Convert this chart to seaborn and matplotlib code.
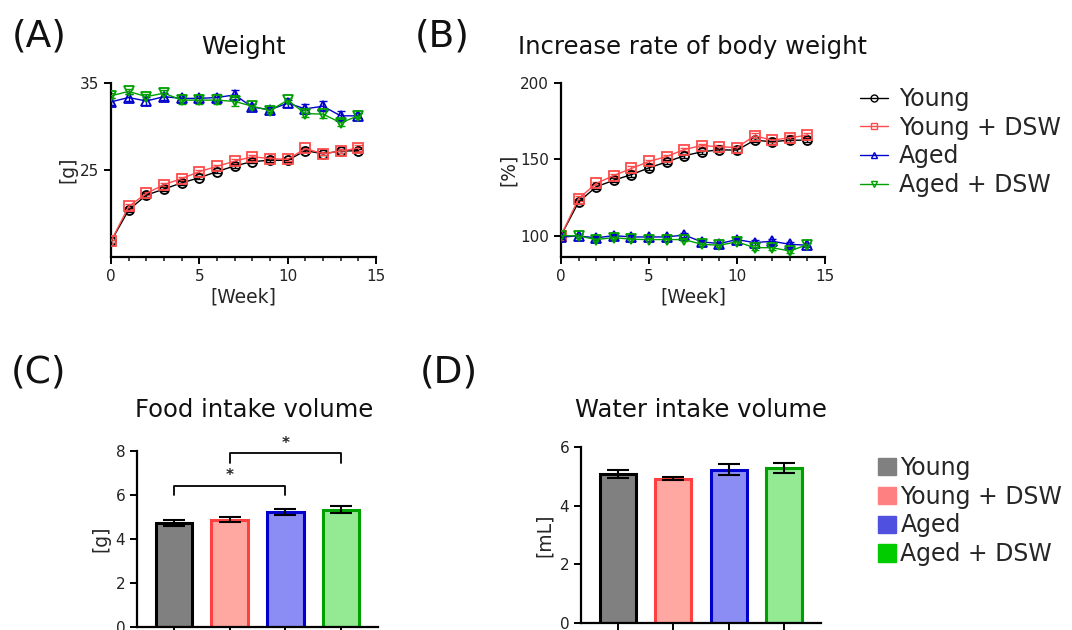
import numpy as np
import pandas as pd
import seaborn as sns
import matplotlib.pyplot as plt
from matplotlib.lines import Line2D
from matplotlib.patches import Patch
from matplotlib.ticker import MultipleLocator, FixedLocator

sns.set_style("ticks")
plt.rcParams['font.family'] = ['DejaVu Sans']

# ---- data ----
weeks = list(range(15))
groups = ["Young", "Young + DSW", "Aged", "Aged + DSW"]

weight_young = [16.8, 20.4, 22.1, 22.8, 23.5, 24.1, 24.8, 25.45, 25.95, 26.1, 26.1, 27.2, 26.85, 27.15, 27.2]
weight_young_dsw = [16.8, 20.8, 22.3, 23.3, 24.0, 24.8, 25.4, 26.0, 26.5, 26.3, 26.2, 27.45, 26.85, 27.15, 27.5]
weight_aged = [32.8, 33.3, 32.9, 33.4, 33.2, 33.2, 33.3, 33.6, 32.2, 31.9, 32.65, 32.0, 32.3, 31.2, 31.2]
weight_aged_dsw = [33.5, 34.0, 33.4, 33.8, 33.0, 33.0, 33.0, 32.85, 32.3, 31.8, 33.0, 31.45, 31.4, 30.4, 31.2]

weight_err_young = [0.2, 0.2, 0.2, 0.2, 0.2, 0.2, 0.2, 0.2, 0.2, 0.2, 0.2, 0.2, 0.2, 0.2, 0.2]
weight_err_young_dsw = [0.2, 0.3, 0.2, 0.2, 0.2, 0.2, 0.2, 0.2, 0.2, 0.2, 0.2, 0.2, 0.2, 0.2, 0.3]
weight_err_aged = [0.4, 0.4, 0.5, 0.4, 0.4, 0.4, 0.4, 0.6, 0.3, 0.3, 0.4, 0.5, 0.6, 0.6, 0.3]
weight_err_aged_dsw = [0.3, 0.3, 0.3, 0.4, 0.4, 0.4, 0.4, 0.5, 0.3, 0.3, 0.3, 0.4, 0.4, 0.4, 0.3]

rate_young = [100, 122, 131.9, 136.2, 139.9, 144.3, 148.2, 152.2, 154.8, 156.1, 155.9, 162.4, 161.4, 162.4, 162.4]
rate_young_dsw = [100, 124.2, 134.1, 139.3, 143.9, 148.5, 151.7, 156.3, 158.9, 158.1, 157.6, 165.3, 162.4, 164.0, 165.7]
rate_aged = [99.0, 99.8, 98.5, 100.0, 99.1, 99.1, 99.1, 100.4, 95.9, 94.8, 97.4, 95.4, 96.3, 94.3, 93.7]
rate_aged_dsw = [100.0, 99.8, 97.4, 98.7, 97.6, 97.4, 97.4, 97.4, 94.3, 93.7, 95.9, 92.1, 92.1, 89.9, 94.1]

rate_err_young = [0.5, 1.5, 1.2, 1.2, 1.3, 1.2, 1.2, 1.2, 1.2, 1.2, 1.2, 1.5, 1.5, 1.5, 1.5]
rate_err_young_dsw = [0.5, 1.5, 1.2, 1.2, 1.3, 1.2, 1.2, 1.2, 1.2, 1.2, 1.2, 1.5, 1.5, 1.5, 1.5]
rate_err_aged = [1.0, 1.2, 1.2, 1.0, 1.0, 1.0, 1.0, 1.5, 1.2, 1.2, 1.2, 1.5, 1.5, 1.5, 1.2]
rate_err_aged_dsw = [1.0, 1.2, 1.2, 1.0, 1.0, 1.0, 1.0, 1.2, 1.2, 1.2, 1.2, 1.5, 1.5, 1.5, 1.2]

food_mean = [4.72, 4.87, 5.23, 5.32]
food_err = [0.13, 0.11, 0.13, 0.16]
water_mean = [5.08, 4.93, 5.24, 5.30]
water_err = [0.13, 0.06, 0.18, 0.18]

# ---- styles ----
line_colors = ["#000000", "#FF4B4B", "#0000CC", "#00A000"]
markers = ["o", "s", "^", "v"]
bar_fill = ["#808080", "#FFA8A2", "#8C8CF5", "#93EA93"]
bar_edge = ["#000000", "#FF4040", "#0000CC", "#00A000"]
legend_fill = ["#808080", "#FF8080", "#5050E0", "#00CC00"]

fig = plt.figure(figsize=(10.72, 6.3), dpi=100)
W, H = 1072, 630

def px_axes(x0, x1, ytop, ybot):
    return fig.add_axes([x0 / W, 1 - ybot / H, (x1 - x0) / W, (ybot - ytop) / H])

axA = px_axes(111, 376, 82.7, 257)
axB = px_axes(561, 825, 82.7, 257)
axC = px_axes(137, 378, 450.7, 626.7)
axD = px_axes(581, 821, 447.3, 622.7)


def style_axis(ax):
    sns.despine(ax=ax)
    for s in ["left", "bottom"]:
        ax.spines[s].set_linewidth(1.6)
        ax.spines[s].set_color("#000000")
    ax.tick_params(axis="both", which="major", width=1.4, length=5, labelsize=11, colors="#000000", labelcolor="#222222")
    ax.tick_params(axis="both", which="minor", width=1.2, length=3)
    ax.set_facecolor("white")


def line_panel(ax, series, errs, ylim, yticks, ylabel):
    for vals, err, c, m in zip(series, errs, line_colors, markers):
        ax.errorbar(weeks, vals, yerr=err, fmt="none", ecolor=c, elinewidth=1.0, capsize=3, capthick=1.0, zorder=2)
        sns.lineplot(x=weeks, y=vals, ax=ax, color=c, linewidth=1.0, marker=m, markersize=6.5,
                     markerfacecolor="none", markeredgecolor=c, markeredgewidth=1.3, zorder=3)
    ax.set_xlim(0, 15)
    ax.set_ylim(*ylim)
    ax.xaxis.set_major_locator(MultipleLocator(5))
    ax.xaxis.set_minor_locator(MultipleLocator(1))
    ax.yaxis.set_major_locator(FixedLocator(yticks))
    ax.set_xlabel("[Week]", fontsize=13.5, labelpad=3)
    ax.set_ylabel(ylabel, fontsize=13.5, labelpad=2)
    style_axis(ax)


line_panel(axA, [weight_young, weight_young_dsw, weight_aged, weight_aged_dsw],
           [weight_err_young, weight_err_young_dsw, weight_err_aged, weight_err_aged_dsw],
           (15, 35), [25, 35], "[g]")
line_panel(axB, [rate_young, rate_young_dsw, rate_aged, rate_aged_dsw],
           [rate_err_young, rate_err_young_dsw, rate_err_aged, rate_err_aged_dsw],
           (86, 200), [100, 150, 200], "[%]")


def bar_panel(ax, means, errs, ylim, ylabel):
    df = pd.DataFrame({"group": groups, "value": means})
    sns.barplot(data=df, x="group", y="value", hue="group", palette=bar_fill, legend=False,
                saturation=1, width=0.65, ax=ax, zorder=2)
    for p, ec in zip(ax.patches, bar_edge):
        p.set_edgecolor(ec)
        p.set_linewidth(2.2)
    ax.errorbar(range(4), means, yerr=errs, fmt="none", ecolor="#000000", elinewidth=1.5,
                capsize=8, capthick=1.5, zorder=3)
    ax.set_xlim(-0.66, 3.66)
    ax.set_ylim(*ylim)
    ax.yaxis.set_major_locator(MultipleLocator(2))
    ax.set_xticks(range(4))
    ax.set_xticklabels([])
    ax.set_xlabel("")
    ax.set_ylabel(ylabel, fontsize=13.5, labelpad=4)
    style_axis(ax)
    ax.tick_params(axis="x", length=7)


bar_panel(axC, food_mean, food_err, (0, 8), "[g]")
bar_panel(axD, water_mean, water_err, (0, 6), "[mL]")

# significance brackets on food intake
brackets = [(0, 2, 5.97, 6.41), (1, 3, 7.42, 7.9)]
for i0, i1, ylo, yhi in brackets:
    axC.plot([i0, i0, i1, i1], [ylo, yhi, yhi, ylo], color="#000000", linewidth=1.3, clip_on=False)
    axC.text((i0 + i1) / 2, yhi + 0.1, "*", ha="center", va="bottom", fontsize=11, fontweight="bold")

# titles
for title, x, y in [("Weight", 243, 47), ("Increase rate of body weight", 693, 47),
                    ("Food intake volume", 254, 410), ("Water intake volume", 701, 410)]:
    fig.text(x / W, 1 - y / H, title, fontsize=17.5, ha="center", va="center", color="#111111")

# panel letters
for lbl, x, y in [("(A)", 39, 36), ("(B)", 442, 36), ("(C)", 38, 372), ("(D)", 449, 372)]:
    fig.text(x / W, 1 - y / H, lbl, fontsize=27, va="center", ha="center", color="#111111")

# legends
line_handles = [Line2D([0], [0], color=c, marker=m, markersize=5, markerfacecolor="none",
                       markeredgecolor=c, linewidth=1.0) for c, m in zip(line_colors, markers)]
fig.legend(line_handles, groups, loc="upper left", bbox_to_anchor=(860 / W, 1 - 87 / H),
           frameon=False, fontsize=17, handlelength=1.2, handletextpad=0.45, labelspacing=0.2,
           borderaxespad=0, borderpad=0)

bar_handles = [Patch(facecolor=c, edgecolor=c) for c in legend_fill]
fig.legend(bar_handles, groups, loc="upper left", bbox_to_anchor=(878 / W, 1 - 456 / H),
           frameon=False, fontsize=17, handlelength=0.75, handleheight=0.75, handletextpad=0.2,
           labelspacing=0.2, borderaxespad=0, borderpad=0)

fig.savefig("out.png", dpi=100, facecolor="white")
